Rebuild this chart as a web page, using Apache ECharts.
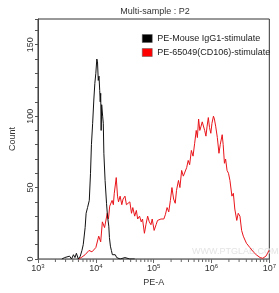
<!DOCTYPE html>
<html>
<head>
<meta charset="utf-8">
<title>Multi-sample : P2</title>
<script src="https://cdn.jsdelivr.net/npm/echarts@6/dist/echarts.min.js"></script>
<style>
  html, body { margin: 0; padding: 0; background: #fff; }
  #main { width: 279px; height: 293px; }
</style>
</head>
<body>
<div id="main"></div>
<script>
// PE-A as log10 exponent, count per channel
var blackLog = [3.412, 3.462, 3.496, 3.546, 3.580, 3.613, 3.639, 3.664, 3.697, 3.731,
  3.760, 3.782, 3.793, 3.815, 3.832, 3.857, 3.887, 3.908, 3.924, 3.945,
  3.966, 3.983, 4.000, 4.017, 4.029, 4.042, 4.055, 4.067, 4.076, 4.084,
  4.092, 4.101, 4.118, 4.129, 4.139, 4.160, 4.185, 4.202, 4.224, 4.235,
  4.252, 4.269, 4.286, 4.308, 4.336, 4.361, 4.387, 4.420, 4.504, 4.588, 4.672];
var blackCount = [0, 1, 0, 2, 0, 3, 1, 4, 0, 2,
  6, 10, 14, 22, 32, 36, 41, 60, 80, 95,
  112, 123, 130, 140, 138, 125, 128, 118, 110, 116,
  90, 108, 100, 95, 74, 55, 39, 30, 23, 15,
  9, 6, 3, 2, 3, 1, 1, 0, 1, 0, 0];

var redLog = [3.692, 3.748, 3.815, 3.882, 3.933, 4.000, 4.050, 4.084, 4.113, 4.151,
  4.197, 4.218, 4.240, 4.281, 4.303, 4.319, 4.353, 4.375, 4.392, 4.420,
  4.449, 4.471, 4.504, 4.529, 4.560, 4.588, 4.617, 4.639, 4.672, 4.701,
  4.723, 4.756, 4.785, 4.807, 4.840, 4.866, 4.896, 4.924, 4.953, 4.975,
  5.008, 5.042, 5.067, 5.092, 5.126, 5.148, 5.176, 5.202, 5.232, 5.261,
  5.289, 5.316, 5.345, 5.373, 5.395, 5.429, 5.454, 5.484, 5.513, 5.541,
  5.571, 5.597, 5.622, 5.652, 5.681, 5.709, 5.736, 5.756, 5.777, 5.798,
  5.820, 5.840, 5.866, 5.882, 5.904, 5.924, 5.945, 5.966, 5.988, 6.008,
  6.034, 6.050, 6.072, 6.101, 6.129, 6.151, 6.185, 6.202, 6.224, 6.244,
  6.269, 6.294, 6.319, 6.353, 6.378, 6.403, 6.437, 6.462, 6.492, 6.521,
  6.550, 6.571, 6.605, 6.639, 6.664, 6.689, 6.723, 6.748, 6.773, 6.807,
  6.840, 6.886, 6.908, 6.941, 6.970, 6.992];
var redCount = [0, 1, 3, 6, 5, 8, 16, 12, 26, 22,
  32, 28, 37, 41, 38, 46, 57, 44, 40, 44,
  38, 42, 44, 38, 37, 40, 32, 36, 30, 34,
  28, 30, 26, 28, 18, 24, 30, 26, 24, 28,
  20, 24, 27, 26, 28, 29, 28, 31, 36, 33,
  41, 50, 42, 39, 48, 55, 50, 62, 58, 57,
  64, 69, 66, 76, 72, 81, 90, 85, 98, 90,
  93, 96, 97, 90, 86, 93, 99, 92, 88, 95,
  100, 98, 93, 85, 74, 80, 87, 80, 67, 70,
  62, 60, 55, 44, 46, 35, 27, 32, 30, 20,
  16, 14, 11, 10, 8, 7, 5, 4, 3, 2,
  1, 0.5, 1, 2, 4, 6];

var decades = [3, 4, 5, 6];
var minorSteps = [2, 3, 4, 5, 6, 7, 8, 9];
var yTickStep = 50;

function toPairs(logs, counts) {
  return logs.map(function (e, i) { return [Math.pow(10, e), counts[i]]; });
}

var minorTicks = [];
decades.forEach(function (d) {
  minorSteps.forEach(function (k) { minorTicks.push([k * Math.pow(10, d), 0]); });
});

var chart = echarts.init(document.getElementById('main'));
chart.setOption({
  animation: false,
  textStyle: { fontFamily: 'Liberation Sans, Arial, sans-serif' },
  title: {
    text: 'Multi-sample : P2',
    left: 150,
    top: 2,
    textAlign: 'center',
    textStyle: { fontSize: 9, fontWeight: 'normal', color: '#333' }
  },
  legend: {
    orient: 'vertical',
    left: 142,
    top: 34,
    padding: 0,
    itemWidth: 10,
    itemHeight: 8,
    itemGap: 5,
    icon: 'rect',
    textStyle: { fontSize: 9, color: '#222' },
    data: [
      { name: 'PE-Mouse IgG1-stimulate', itemStyle: { color: '#000', borderColor: '#555', borderWidth: 0.5 } },
      { name: 'PE-65049(CD106)-stimulate', itemStyle: { color: '#f00', borderColor: '#555', borderWidth: 0.5 } }
    ]
  },
  grid: { left: 36, right: 6, top: 19, bottom: 34, show: true, borderColor: '#333', borderWidth: 1 },
  xAxis: {
    type: 'log',
    logBase: 10,
    min: 1000,
    max: 10000000,
    name: 'PE-A',
    nameLocation: 'middle',
    nameGap: 18,
    nameTextStyle: { fontSize: 9, color: '#333' },
    axisLine: { lineStyle: { color: '#888' } },
    axisTick: { length: 4, lineStyle: { color: '#666' } },
    splitLine: { show: false },
    axisLabel: {
      margin: 4,
      formatter: function (v) {
        return '{b|10}{s|' + Math.round(Math.log10(v)) + '}';
      },
      rich: {
        b: { fontSize: 9, color: '#333' },
        s: { fontSize: 6, color: '#333', padding: [0, 0, 6, 0] }
      }
    }
  },
  yAxis: {
    type: 'value',
    min: 0,
    max: 168,
    interval: yTickStep,
    name: 'Count',
    nameLocation: 'middle',
    nameGap: 21,
    nameTextStyle: { fontSize: 9, color: '#333' },
    axisLine: { show: true, lineStyle: { color: '#444' } },
    axisTick: { length: 3, lineStyle: { color: '#555' } },
    minorTick: { show: true, splitNumber: 5, length: 3, lineStyle: { color: '#555' } },
    splitLine: { show: false },
    axisLabel: { rotate: 90, fontSize: 9, color: '#333', margin: 3, showMaxLabel: false }
  },
  graphic: [{
    type: 'text',
    left: 192,
    top: 247,
    z: 0,
    style: { text: 'WWW.PTGLAB.COM', fontSize: 9, fill: '#e4e4e4', fontFamily: 'Liberation Sans, Arial, sans-serif' }
  }],
  series: [
    {
      name: 'PE-65049(CD106)-stimulate',
      type: 'line',
      data: toPairs(redLog, redCount),
      symbol: 'none',
      lineStyle: { color: '#e8141a', width: 1 },
      itemStyle: { color: '#f00' }
    },
    {
      name: 'PE-Mouse IgG1-stimulate',
      type: 'line',
      data: toPairs(blackLog, blackCount),
      symbol: 'none',
      lineStyle: { color: '#111', width: 1 },
      itemStyle: { color: '#000' }
    },
    {
      type: 'custom',
      silent: true,
      data: minorTicks,
      renderItem: function (params, api) {
        var p = api.coord([api.value(0), 0]);
        return {
          type: 'line',
          shape: { x1: p[0], y1: p[1], x2: p[0], y2: p[1] + 3 },
          style: { stroke: '#666', lineWidth: 1 }
        };
      }
    }
  ]
});
</script>
</body>
</html>
